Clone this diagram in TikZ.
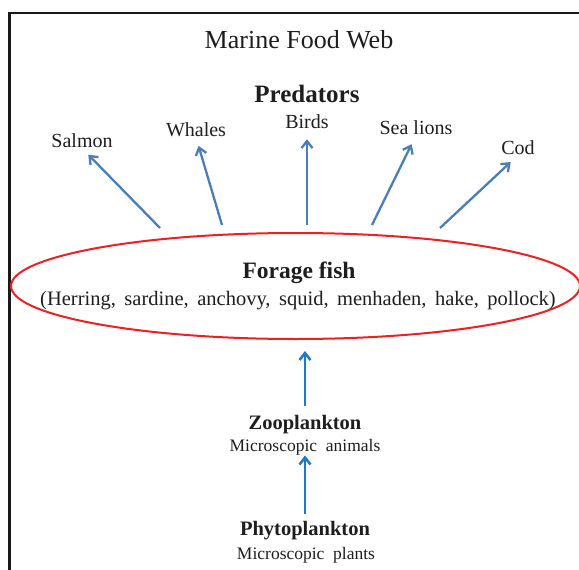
\documentclass[tikz,border=0pt]{standalone}
\usepackage{fontspec}
\setmainfont{Liberation Serif}
\usetikzlibrary{arrows.meta,shapes.geometric}
\definecolor{txt}{HTML}{1E1E1E}
\definecolor{upblue}{HTML}{4A7EBB}
\definecolor{lowblue}{HTML}{1F78C8}
\definecolor{ellred}{HTML}{EE2020}
\tikzset{
  lbl/.style={inner sep=0pt, text=txt, font=\fontsize{20}{22}\selectfont},
  ttl/.style={inner sep=0pt, text=txt, font=\fontsize{26}{29}\selectfont},
  hdr/.style={inner sep=0pt, text=txt, font=\bfseries\fontsize{25}{28}\selectfont},
  sub/.style={inner sep=0pt, text=txt, font=\bfseries\fontsize{20.5}{23}\selectfont},
  desc/.style={inner sep=0pt, text=txt, font=\fontsize{17.5}{20}\selectfont},
  uparr/.style={draw=upblue, line width=2.3pt, -{Straight Barb[length=7pt,width=11pt,line width=2.3pt]}},
  lowarr/.style={draw=lowblue, line width=2.5pt, -{Straight Barb[length=7pt,width=11pt,line width=2.5pt]}},
  fishell/.style={ellipse, draw=ellred, line width=2pt, minimum width=569pt, minimum height=106pt, inner sep=0pt}
}
\begin{document}
\begin{tikzpicture}[x=1pt,y=-1pt]
\useasboundingbox (0,0) rectangle (579,570);
\clip (0,0) rectangle (579,570);
\fill[white] (0,0) rectangle (579,570);
% frame
\draw[line width=2.2pt, draw=black!90] (9.5,600) -- (9.5,13) -- (600,13);
% title
\node[ttl] (title) at (299,40) {Marine Food Web};
\node[hdr] (pred) at (307,94) {Predators};
% predators
\node[lbl] (salmon) at (82,141) {Salmon};
\node[lbl] (whales) at (196,130) {Whales};
\node[lbl] (birds) at (307,122) {Birds};
\node[lbl] (sealions) at (416,128) {Sea lions};
\node[lbl] (cod) at (518,148) {Cod};
% forage fish ellipse
\node[fishell] (ff) at (295.5,286) {};
\node[sub, font=\bfseries\fontsize{23.5}{26}\selectfont] (fftitle) at (299,273) {Forage fish};
\node[lbl, font=\fontsize{20.5}{23}\selectfont] (fflist) at (298,301) {(Herring,\ \,sardine,\ \,anchovy,\ \,squid,\ \,menhaden,\ \,hake,\ \,pollock)};
% tails of predator arrows
\coordinate (t1) at (160,228);
\coordinate (t2) at (222,225);
\coordinate (t3) at (307,225);
\coordinate (t4) at (372,225);
\coordinate (t5) at (440,228);
\draw[uparr, shorten >=9pt] (t1) -- (salmon.south);
\draw[uparr, shorten >=9pt] (t2) -- (whales.south);
\draw[uparr, shorten >=10pt] (t3) -- (birds.south);
\draw[uparr, shorten >=10pt] (t4) -- (sealions.south);
\draw[uparr, shorten >=10pt] (t5) -- (cod.south);
% lower levels
\node[sub] (zoo) at (305,425) {Zooplankton};
\node[desc] (zoodesc) at (305,447) {Microscopic\ \ animals};
\node[sub] (phyto) at (305,531) {Phytoplankton};
\node[desc] (phytodesc) at (306,555) {Microscopic\ \ plants};
\draw[lowarr, shorten <=10pt, shorten >=11pt] (zoo.north -| ff.south) ++(9.5,0) -- (ff.south -| 305,0);
\draw[lowarr, shorten <=7pt, shorten >=21pt] (phyto.north) -- (zoo.south);
\end{tikzpicture}
\end{document}
